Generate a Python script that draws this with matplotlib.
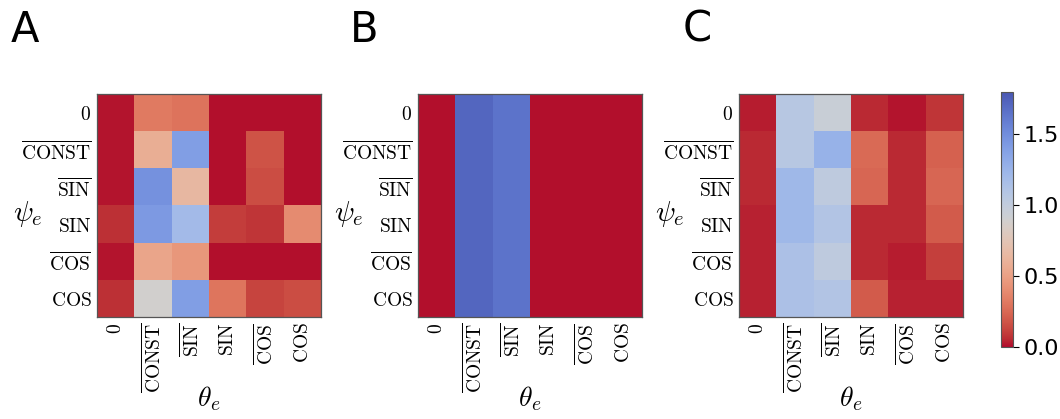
import matplotlib
matplotlib.use("Agg")
import matplotlib.pyplot as plt
import numpy as np
from matplotlib.colors import ListedColormap

plt.rcParams["mathtext.fontset"] = "cm"

# rows: psi_e, columns: theta_e (same order on both axes)
labels = [r"$0$", r"$\overline{\mathrm{CONST}}$", r"$\overline{\mathrm{SIN}}$",
          r"$\mathrm{SIN}$", r"$\overline{\mathrm{COS}}$", r"$\mathrm{COS}$"]

panel_a = np.array([
    [0.02, 0.32, 0.29, 0.01, 0.01, 0.01],
    [0.02, 0.58, 1.40, 0.01, 0.17, 0.01],
    [0.02, 1.48, 0.64, 0.01, 0.15, 0.01],
    [0.07, 1.43, 1.20, 0.10, 0.08, 0.40],
    [0.02, 0.53, 0.45, 0.01, 0.01, 0.01],
    [0.07, 0.89, 1.40, 0.30, 0.12, 0.15],
])
panel_b = np.array([
    [0.01, 1.72, 1.65, 0.01, 0.01, 0.01],
    [0.01, 1.72, 1.65, 0.01, 0.01, 0.01],
    [0.01, 1.72, 1.65, 0.01, 0.01, 0.01],
    [0.01, 1.72, 1.65, 0.01, 0.01, 0.01],
    [0.01, 1.72, 1.65, 0.01, 0.01, 0.01],
    [0.01, 1.72, 1.65, 0.01, 0.01, 0.01],
])
panel_c = np.array([
    [0.03, 1.07, 0.95, 0.05, 0.02, 0.08],
    [0.05, 1.07, 1.27, 0.26, 0.05, 0.22],
    [0.05, 1.22, 1.02, 0.24, 0.05, 0.24],
    [0.04, 1.22, 1.10, 0.05, 0.05, 0.20],
    [0.04, 1.14, 1.02, 0.05, 0.03, 0.11],
    [0.04, 1.14, 1.10, 0.20, 0.04, 0.04],
])
panels = [("A", panel_a), ("B", panel_b), ("C", panel_c)]
VMAX = 1.8

# coolwarm_r, muted a little (more on the blue side) like the scanned figure
base = plt.get_cmap("coolwarm_r")(np.linspace(0, 1, 256))
w = np.linspace(0.06, 0.22, 256)[:, None]
base[:, :3] = (1 - w) * base[:, :3] + w * 0.5
cmap = ListedColormap(base)

W, H = 1060, 419
fig = plt.figure(figsize=(W / 100, H / 100), dpi=100)


def px_axes(x0, y0, x1, y1):
    # pixel box (top-left origin) -> figure fraction axes
    return fig.add_axes([x0 / W, 1 - y1 / H, (x1 - x0) / W, (y1 - y0) / H])


lefts = [97, 418, 739]
letter_x = [11, 350, 683]
im = None
for (letter, data), left, lx in zip(panels, lefts, letter_x):
    ax = px_axes(left, 94, left + 224, 317)
    im = ax.imshow(data, cmap=cmap, vmin=0, vmax=VMAX,
                   aspect="auto", interpolation="nearest")
    ax.set_xticks(range(len(labels)))
    ax.set_yticks(range(len(labels)))
    ax.set_xticklabels(labels, rotation=90, fontsize=14)
    ax.set_yticklabels(labels, fontsize=14)
    ax.tick_params(length=0, pad=4)
    for s in ax.spines.values():
        s.set_color("#555555")
        s.set_linewidth(0.9)
    ax.set_ylabel(r"$\psi_e$", rotation=0, fontsize=21, va="center")
    ax.yaxis.set_label_coords(-0.31, 0.46)
    ax.set_xlabel(r"$\theta_e$", fontsize=20, va="center")
    ax.xaxis.set_label_coords(0.5, -0.365)
    fig.text(lx / W, 1 - 42 / H, letter, fontsize=30, va="baseline", ha="left")

cax = px_axes(1001, 92, 1013, 347)
cb = fig.colorbar(im, cax=cax, ticks=[0.0, 0.5, 1.0, 1.5])
cb.ax.tick_params(labelsize=16, length=4, width=0.8)
cb.outline.set_edgecolor("#555555")
cb.ax.set_yticklabels(["0.0", "0.5", "1.0", "1.5"])

fig.savefig("out.png", dpi=100)
